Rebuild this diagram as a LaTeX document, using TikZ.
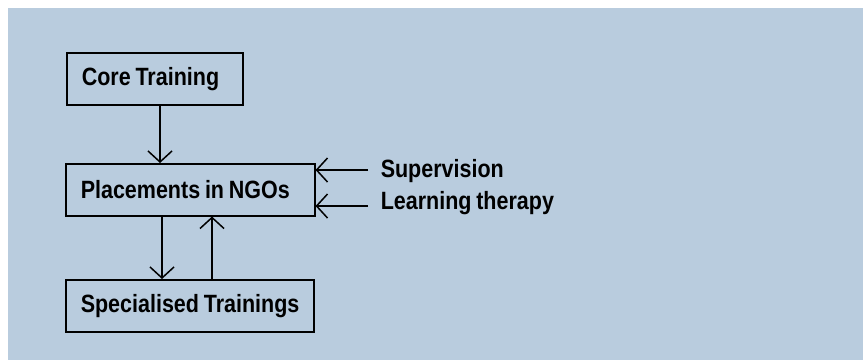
\documentclass[tikz,border=0pt]{standalone}
\usepackage{fontspec}
\setmainfont{Liberation Sans}[FakeStretch=0.86,WordSpace=0.8]
\usepackage{tikz}
\usetikzlibrary{arrows.meta, positioning}
\definecolor{panelblue}{RGB}{185,204,222}

\begin{document}
\begin{tikzpicture}[x=1pt,y=-1pt,->,>={Straight Barb[length=11pt,width=24pt]},line width=1.5pt]
                \tikzset{box/.style={draw, anchor=north west, inner xsep=15pt, inner ysep=0pt, minimum height=52pt, font=\fontsize{25}{28}\selectfont\bfseries},
                         side/.style={anchor=west, inner sep=0pt, font=\fontsize{25}{28}\selectfont\bfseries}}
                \useasboundingbox (0,0) rectangle (863,360);
                \fill[panelblue, draw=none] (8,8) rectangle (863,360);
                \node[box] (core) at (66,52) {\makebox[146pt][l]{Core Training}};
                \node[box] (ngo) at (65,163) {\makebox[219pt][l]{Placements in NGOs}};
                \node[box] (spec) at (65,279) {\makebox[218pt][l]{Specialised Trainings}};
                \node[side] (sup) at (380,171) {Supervision};
                \node[side] (learn) at (380,203) {Learning therapy};
                \coordinate (supin) at (368,170);
                \coordinate (learnin) at (368,206);
                \path (core.south -| 160,0) edge node {} (ngo.north -| 160,0);
                \path (ngo.south -| 162,0) edge node {} (spec.north -| 162,0);
                \path (spec.north -| 212,0) edge node {} (ngo.south -| 212,0);
                \path (supin) edge node {} (ngo.east |- supin);
                \path (learnin) edge node {} (ngo.east |- learnin);
            \end{tikzpicture}
\end{document}
